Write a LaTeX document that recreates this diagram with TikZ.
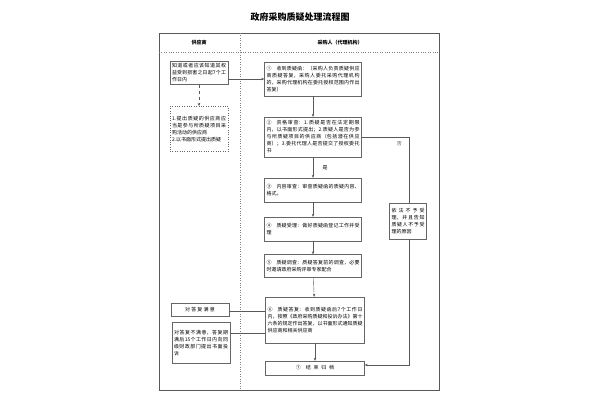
\documentclass[tikz,border=0pt]{standalone}
\usepackage{fontspec}
\setmainfont{Noto Sans CJK SC}
\XeTeXlinebreaklocale "zh"
\XeTeXlinebreakskip=0pt plus 1pt
\usepackage{tikz}
\usetikzlibrary{positioning, arrows.meta, calc}

\begin{document}
\begin{tikzpicture}[
        x=1pt, y=-1pt,
        every node/.style={font=\fontsize{5}{7}\selectfont},
        stepbox/.style={
            rectangle,
            draw=gray!80!black,
            align=justify,
            inner sep=2pt
        },
        flow/.style={-{Stealth[length=3pt,width=2.5pt]}, draw=gray!70!black}
    ]
        \useasboundingbox (0,0) rectangle (600,400);
        % Frame and lanes
        \draw[gray!70!black] (159,33) rectangle (439,390);
        \draw[gray, dotted] (159,52) -- (439,52);
        \draw[gray, dotted] (240,33) -- (240,390);
        \node (title) at (300,17) {\fontsize{9}{11}\selectfont\textbf{政府采购质疑处理流程图}};
        \node (lane1) at (199,43) {\textbf{供应商}};
        \node (lane2) at (340,43) {\textbf{采购人（代理机构）}};

        % Supplier
        \node[stepbox, text width=54pt, minimum height=20pt] (know) at (199,73) {知道或者应该知道其权益受到损害之日起7个工作日内};
        \node[stepbox, dotted, text width=54pt, minimum height=45pt, anchor=north] (cond) at (199,106) {1.提出质疑的供应商应当是参与所质疑项目采购活动的供应商\\2.以书面形式提出质疑};
        \node[stepbox, text width=54pt, minimum height=13pt, align=center] (ok) at (200,310) {对答复满意};
        \node[stepbox, text width=54pt, minimum height=41pt] (notok) at (201,343) {对答复不满意，答复期满后15个工作日内向同级财政部门提出书面投诉};

        % Purchaser
        \node[stepbox, text width=93pt, minimum height=34pt] (s1) at (313,79) {①\quad 收到质疑函：（采购人负责质疑供应商质疑答复，采购人委托采购代理机构的，采购代理机构在委托授权范围内作出答复）};
        \node[stepbox, text width=93pt, minimum height=40pt] (s2) at (313,137) {②\quad 资格审查：1.质疑是否在法定期限内，以书面形式提出；2.质疑人是否为参与所质疑项目的供应商（包括潜在供应商）；3.委托代理人是否提交了授权委托书};
        \node[stepbox, text width=93pt, minimum height=24pt] (s3) at (313,190) {③\quad 内容审查：审查质疑函的质疑内容、格式。};
        \node[stepbox, text width=93pt, minimum height=24pt] (s4) at (313,229) {④\quad 质疑受理：做好质疑函登记工作并受理};
        \node[stepbox, text width=93pt, minimum height=23pt] (s5) at (313,266) {⑤\quad 质疑调查：质疑答复前的调查，必要时邀请政府采购评审专家配合};
        \node[stepbox, text width=95pt, minimum height=46pt] (s6) at (315,320) {⑥\quad 质疑答复：收到质疑函后7个工作日内，按照《政府采购质疑和投诉办法》第十六条的规定作出答复，以书面形式通知质疑供应商和相关供应商};
        \node[stepbox, text width=95pt, minimum height=14pt, align=center] (s7) at (315,368) {⑦\quad 结束归档};
        \node[stepbox, text width=33pt, minimum height=36pt] (reject) at (408,221) {依法不予受理，并且告知质疑人不予受理的原因};

        % Connectors
        \draw[flow, dashed] (know) -- (cond);
        \draw[flow] (know.east |- 0,79) -- (s1.west |- 0,79);
        \draw[flow] (s1) -- (s2);
        \draw[flow] (s2) -- node[right=6pt] {是} (s3);
        \draw[flow] (s3) -- (s4);
        \draw[flow] (s4) -- (s5);
        \draw[flow] (s5) -- (s6);
        \draw[flow] (s6) -- (s7);
        \draw[gray!70!black] (s2.east) -- node[below right=1pt and 8pt] {否} (409,137) -- (reject.north -| 409,0);
        \draw[flow] (reject.south -| 409,0) -- (409,365) -- (s7.east |- 0,365);
        \draw[gray!70!black] (s6.west |- 0,311) -- (ok.east |- 0,311);
        \draw[gray!70!black] (s6.west |- 0,333) -- (notok.east |- 0,333);
    \end{tikzpicture}
\end{document}
